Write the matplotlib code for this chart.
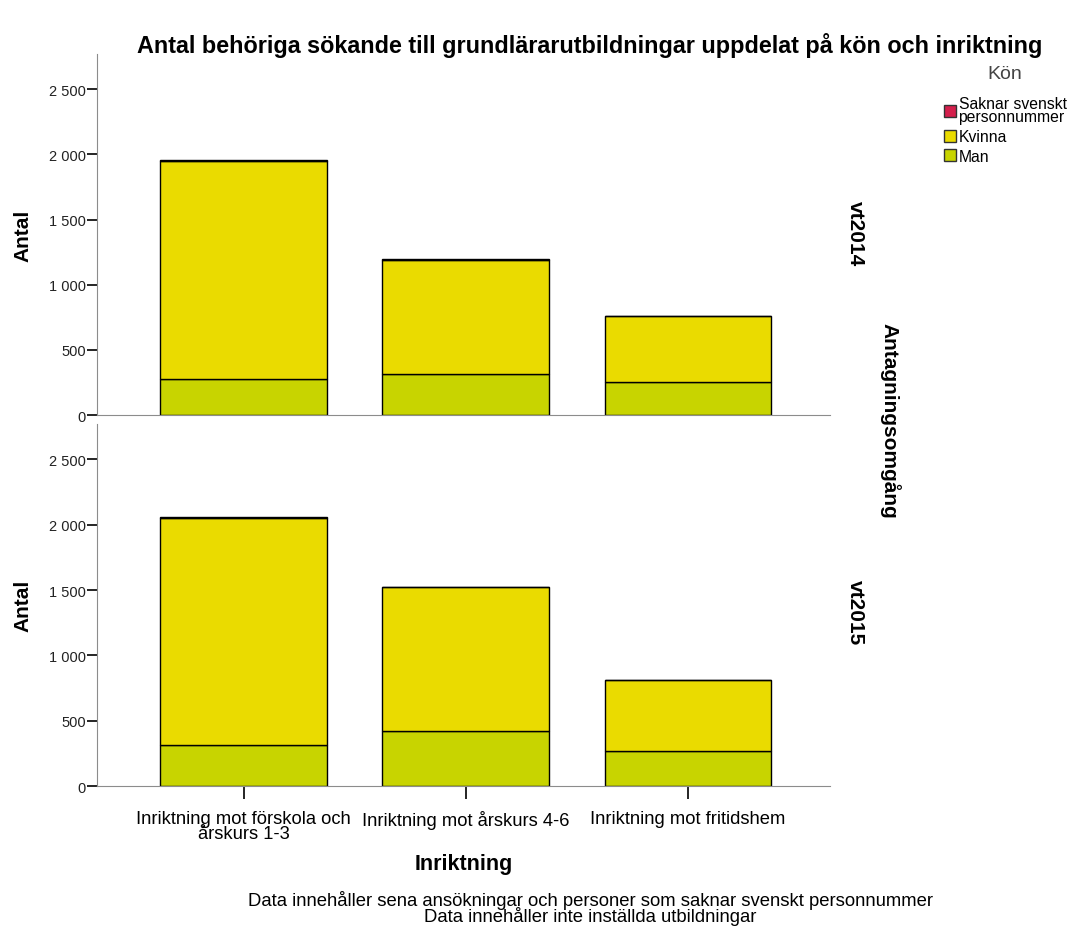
import numpy as np
import matplotlib.pyplot as plt
from matplotlib.patches import Patch
from matplotlib.ticker import FuncFormatter

plt.rcParams['font.family'] = ['Liberation Sans', 'DejaVu Sans']

# --- data ---
categories = ["Inriktning mot förskola och\nårskurs 1-3",
              "Inriktning mot årskurs 4-6",
              "Inriktning mot fritidshem"]
rounds = ["vt2014", "vt2015"]
man = {"vt2014": [280, 313, 250], "vt2015": [314, 423, 266]}
kvinna = {"vt2014": [1667, 877, 509], "vt2015": [1736, 1097, 545]}
saknar = {"vt2014": [8, 6, 3], "vt2015": [7, 5, 4]}

col_man = '#C8D400'
col_kvinna = '#EADB00'
col_saknar = '#D41F4C'

fig = plt.figure(figsize=(10.75, 9.28), dpi=100)
ax_top = fig.add_axes([0.0902, 0.5517, 0.682, 0.389])
ax_bot = fig.add_axes([0.0902, 0.1519, 0.682, 0.390])

x = np.arange(len(categories))
fmt = FuncFormatter(lambda v, p: f"{int(v):,}".replace(",", " "))

# facet label y-position (axes fraction) for each panel
for ax, r, ypos in zip((ax_top, ax_bot), rounds, (0.504, 0.483)):
    m = np.array(man[r])
    k = np.array(kvinna[r])
    s = np.array(saknar[r])
    ax.bar(x, m, width=0.75, color=col_man, edgecolor='black', linewidth=1)
    ax.bar(x, k, width=0.75, bottom=m, color=col_kvinna, edgecolor='black', linewidth=1)
    ax.bar(x, s, width=0.75, bottom=m + k, color=col_saknar, edgecolor='black', linewidth=1)
    ax.set_xlim(-0.66, 2.64)
    ax.set_ylim(0, 2770)
    ax.set_yticks([0, 500, 1000, 1500, 2000, 2500])
    ax.yaxis.set_major_formatter(fmt)
    for sp in ('top', 'right'):
        ax.spines[sp].set_visible(False)
    for sp in ('left', 'bottom'):
        ax.spines[sp].set_color('#8c8c8c')
    ax.tick_params(axis='y', length=7, width=1.2, color='black', labelsize=10.5,
                   labelcolor='#222222', pad=1)
    ax.set_ylabel("Antal", fontsize=15, fontweight='bold', labelpad=12)
    ax.text(1.034, ypos, r, transform=ax.transAxes, rotation=-90, fontsize=15,
            fontweight='bold', ha='center', va='center')

ax_top.set_xticks([])
ax_bot.set_xticks(x)
ax_bot.set_xticklabels(categories, fontsize=13.2, linespacing=0.85)
ax_bot.tick_params(axis='x', length=9, width=1.2, color='black', pad=8)
ax_bot.set_xlabel("Inriktning", fontsize=15.5, fontweight='bold', labelpad=8)

fig.text(0.828, 0.5463, "Antagningsomgång", rotation=-90, fontsize=15, fontweight='bold',
         ha='center', va='center')

fig.text(0.549, 0.951, "Antal behöriga sökande till grundlärarutbildningar uppdelat på kön och inriktning",
         fontsize=16.8, fontweight='bold', ha='center', va='center')

fig.text(0.549, 0.021, "Data innehåller sena ansökningar och personer som saknar svenskt personnummer\n"
         "Data innehåller inte inställda utbildningar",
         fontsize=13.3, ha='center', va='center', linespacing=0.78)

handles = [Patch(facecolor=col_saknar, edgecolor='#333333'),
           Patch(facecolor=col_kvinna, edgecolor='#333333'),
           Patch(facecolor=col_man, edgecolor='#333333')]
labels = ["Saknar svenskt\npersonnummer", "Kvinna", "Man"]
leg = fig.legend(handles, labels, title="Kön", loc='upper left', bbox_to_anchor=(0.8705, 0.937),
                 frameon=False, handlelength=0.8, handleheight=0.8, handletextpad=0.15,
                 labelspacing=0.3, fontsize=11.3, title_fontsize=14, borderpad=0)
for t in leg.get_texts():
    t.set_linespacing(0.85)
leg.get_title().set_color('#444444')
leg._legend_box.sep = 10

fig.savefig("out.png", dpi=100)
